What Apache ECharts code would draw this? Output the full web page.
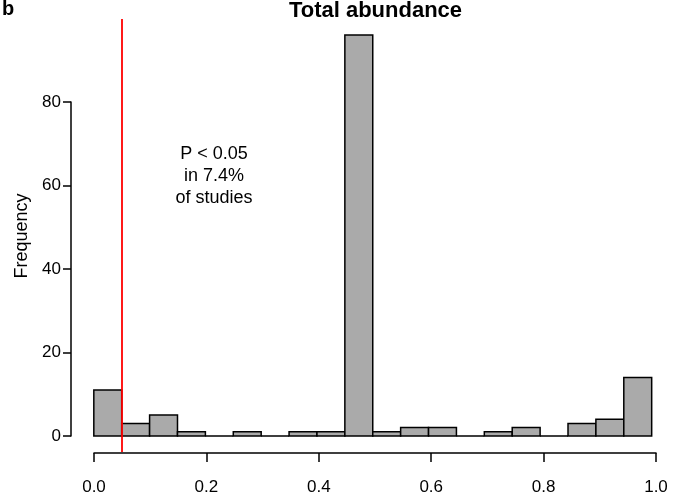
<!DOCTYPE html>
<html>
<head>
<meta charset="utf-8">
<title>Total abundance</title>
<script src="https://cdn.jsdelivr.net/npm/echarts@6/dist/echarts.min.js"></script>
<style>
  html, body { margin: 0; padding: 0; background: #fff; }
  #chart { width: 674px; height: 502px; }
</style>
</head>
<body>
<div id="chart"></div>
<script>
  // histogram bins (p-value) and study counts
  var binStart = [0.00, 0.05, 0.10, 0.15, 0.20, 0.25, 0.30, 0.35, 0.40, 0.45,
                  0.50, 0.55, 0.60, 0.65, 0.70, 0.75, 0.80, 0.85, 0.90, 0.95];
  var binEnd   = [0.05, 0.10, 0.15, 0.20, 0.25, 0.30, 0.35, 0.40, 0.45, 0.50,
                  0.55, 0.60, 0.65, 0.70, 0.75, 0.80, 0.85, 0.90, 0.95, 1.00];
  var counts   = [11, 3, 5, 1, 0, 1, 0, 1, 1, 96,
                  1, 2, 2, 0, 1, 2, 0, 3, 4, 14];
  var xTicks = [0, 0.2, 0.4, 0.6, 0.8, 1.0];
  var yTicks = [0, 20, 40, 60, 80];
  var threshold = 0.05;

  var FONT = "'Liberation Sans', Arial, Helvetica, sans-serif";

  var bins = binStart.map(function (s, i) { return [s, binEnd[i], counts[i]]; });

  var chart = echarts.init(document.getElementById('chart'), null, { renderer: 'canvas' });

  chart.setOption({
    animation: false,
    backgroundColor: '#ffffff',
    grid: [
      // plot region (R style, 4% padding on both axes)
      { left: 71.5, top: 19, width: 607, height: 433 },
      // x axis strip, spans 0..1 only
      { left: 94, top: 452, width: 562, height: 1 },
      // y axis strip, spans 0..80 only
      { left: 71, top: 102, width: 1, height: 334 }
    ],
    xAxis: [
      { gridIndex: 0, type: 'value', min: -0.04, max: 1.04, show: false },
      {
        gridIndex: 1, type: 'value', min: xTicks[0], max: xTicks[xTicks.length - 1], interval: 0.2,
        position: 'bottom',
        axisLine: { show: true, lineStyle: { color: '#000', width: 1.5 } },
        axisTick: { show: true, length: 9, lineStyle: { color: '#000', width: 1.5 } },
        axisLabel: {
          margin: 26, color: '#000', fontSize: 17, fontFamily: FONT,
          formatter: function (v) { return v.toFixed(1); }
        },
        splitLine: { show: false }
      },
      { gridIndex: 2, type: 'value', show: false }
    ],
    yAxis: [
      { gridIndex: 0, type: 'value', min: -3.84, max: 99.84, show: false },
      { gridIndex: 1, type: 'value', show: false },
      {
        gridIndex: 2, type: 'value', min: yTicks[0], max: yTicks[yTicks.length - 1], interval: 20,
        position: 'left',
        axisLine: { show: true, lineStyle: { color: '#000', width: 1.5 } },
        axisTick: { show: true, length: 8, lineStyle: { color: '#000', width: 1.5 } },
        axisLabel: { margin: 10, color: '#000', fontSize: 17, fontFamily: FONT },
        splitLine: { show: false }
      }
    ],
    series: [
      {
        type: 'custom',
        xAxisIndex: 0,
        yAxisIndex: 0,
        data: bins,
        encode: { x: [0, 1], y: 2 },
        renderItem: function (params, api) {
          var lo = api.coord([api.value(0), 0]);
          var hi = api.coord([api.value(1), api.value(2)]);
          return {
            type: 'rect',
            shape: { x: lo[0], y: hi[1], width: hi[0] - lo[0], height: lo[1] - hi[1] },
            style: { fill: '#aaaaaa', stroke: '#000000', lineWidth: 1.5 }
          };
        },
        markLine: {
          silent: true,
          symbol: 'none',
          label: { show: false },
          lineStyle: { color: '#ff0000', width: 1.8, type: 'solid' },
          data: [{ xAxis: threshold }]
        }
      }
    ],
    graphic: [
      {
        type: 'text', x: 375.5, y: 11,
        style: { text: 'Total abundance', font: 'bold 22px ' + FONT, fill: '#000',
                 textAlign: 'center', textVerticalAlign: 'middle' }
      },
      {
        type: 'text', x: 2, y: 9,
        style: { text: 'b', font: 'bold 20px ' + FONT, fill: '#000',
                 textAlign: 'left', textVerticalAlign: 'middle' }
      },
      {
        type: 'text', x: 214, y: 176,
        style: { text: 'P < 0.05\nin 7.4%\nof studies', font: '18px ' + FONT, fill: '#000',
                 lineHeight: 21.7, textAlign: 'center', textVerticalAlign: 'middle' }
      },
      {
        type: 'text', x: 22, y: 236, rotation: Math.PI / 2,
        style: { text: 'Frequency', font: '18px ' + FONT, fill: '#000',
                 textAlign: 'center', textVerticalAlign: 'middle' }
      }
    ]
  });
</script>
</body>
</html>
